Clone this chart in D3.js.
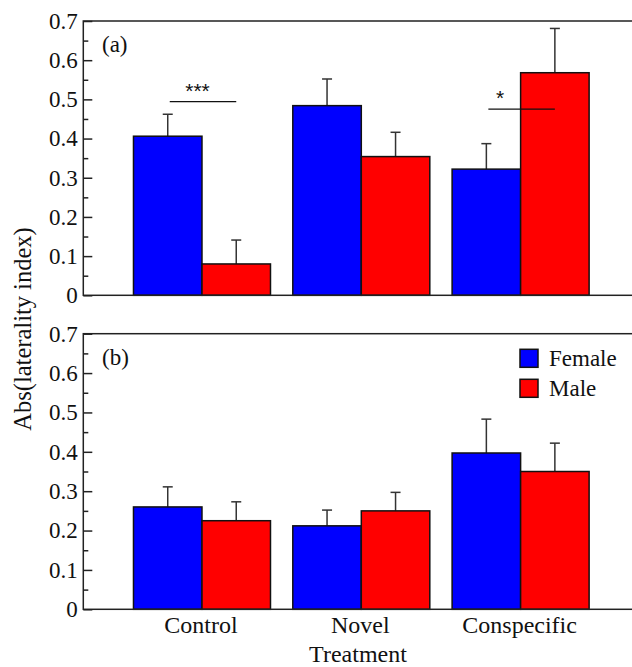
<!DOCTYPE html>
<html>
<head>
<meta charset="utf-8">
<script src="https://cdn.jsdelivr.net/npm/d3@7"></script>
<style>
  body { margin: 0; background: #fff; }
  svg text { font-family: "Liberation Serif", Tinos, "Times New Roman", Times, "DejaVu Serif", serif !important; fill: #111; }
  svg text.star { font-family: "Liberation Sans", Arimo, Arial, sans-serif !important; }
</style>
</head>
<body>
<div id="chart"></div>
<script>
// data
const treatments = ["Control", "Novel", "Conspecific"];
const sexes = ["Female", "Male"];
const colors = ["#0000ff", "#ff0000"];

// panel (a)
const aFemale = [0.406, 0.484, 0.322];
const aFemaleSE = [0.056, 0.068, 0.065];
const aMale = [0.080, 0.354, 0.568];
const aMaleSE = [0.061, 0.062, 0.113];

// panel (b)
const bFemale = [0.260, 0.212, 0.397];
const bFemaleSE = [0.051, 0.040, 0.086];
const bMale = [0.225, 0.250, 0.350];
const bMaleSE = [0.048, 0.047, 0.072];

// significance marks in panel (a): group, height of the line, label
const sigGroups = ["Control", "Conspecific"];
const sigLevels = [0.494, 0.475];
const sigLabels = ["***", "*"];

const yTicks = [0, 0.1, 0.2, 0.3, 0.4, 0.5, 0.6, 0.7];
const yMinorTicks = [0.05, 0.15, 0.25, 0.35, 0.45, 0.55, 0.65];

// set the dimensions
const W = 632, H = 667;
const left = 83.3, right = 639.3;

const svg = d3.select("#chart")
  .append("svg")
  .attr("width", W)
  .attr("height", H);

// x scales shared by both panels
const x = d3.scaleBand()
  .domain(treatments)
  .range([left, right])
  .paddingInner(0.14)
  .paddingOuter(0.315);

const xSex = d3.scaleBand()
  .domain(sexes)
  .range([0, x.bandwidth()]);

function drawPanel(top, bottom, female, femaleSE, male, maleSE, tag) {
  const y = d3.scaleLinear().domain([0, 0.7]).range([bottom, top]);
  const g = svg.append("g");

  const rows = [];
  treatments.forEach((t, i) => {
    rows.push({t: t, sex: "Female", v: female[i], se: femaleSE[i], c: colors[0]});
    rows.push({t: t, sex: "Male", v: male[i], se: maleSE[i], c: colors[1]});
  });

  // error bars (drawn first so bars sit on top of the stem)
  g.selectAll(".err")
    .data(rows)
    .join("line")
    .attr("x1", d => x(d.t) + xSex(d.sex) + xSex.bandwidth() / 2)
    .attr("x2", d => x(d.t) + xSex(d.sex) + xSex.bandwidth() / 2)
    .attr("y1", d => y(d.v))
    .attr("y2", d => y(d.v + d.se))
    .attr("stroke", "#333")
    .attr("stroke-width", 1.5);

  g.selectAll(".cap")
    .data(rows)
    .join("line")
    .attr("x1", d => x(d.t) + xSex(d.sex) + xSex.bandwidth() / 2 - 5)
    .attr("x2", d => x(d.t) + xSex(d.sex) + xSex.bandwidth() / 2 + 5)
    .attr("y1", d => y(d.v + d.se))
    .attr("y2", d => y(d.v + d.se))
    .attr("stroke", "#333")
    .attr("stroke-width", 1.5);

  // bars
  g.selectAll("rect.bar")
    .data(rows)
    .join("rect")
    .attr("class", "bar")
    .attr("x", d => x(d.t) + xSex(d.sex))
    .attr("y", d => y(d.v))
    .attr("width", xSex.bandwidth())
    .attr("height", d => y(0) - y(d.v))
    .attr("fill", d => d.c)
    .attr("stroke", "#111")
    .attr("stroke-width", 1.5);

  // frame
  g.append("rect")
    .attr("x", left)
    .attr("y", top)
    .attr("width", right - left)
    .attr("height", bottom - top)
    .attr("fill", "none")
    .attr("stroke", "#222")
    .attr("stroke-width", 1.5);

  // y axis, ticks point inward
  const yAxis = g.append("g")
    .attr("transform", `translate(${left},0)`)
    .call(d3.axisLeft(y)
      .tickValues(yTicks)
      .tickSizeInner(-9)
      .tickSizeOuter(0)
      .tickPadding(5.5)
      .tickFormat(d => d === 0 ? "0" : d3.format(".1f")(d)));
  yAxis.attr("font-family", null).attr("font-size", null);
  yAxis.select(".domain").remove();
  yAxis.selectAll("line").attr("stroke", "#222").attr("stroke-width", 1.5);
  yAxis.selectAll("text")
    .style("font-size", "23px")
    .attr("fill", "#111");

  const yMinor = g.append("g")
    .attr("transform", `translate(${left},0)`)
    .call(d3.axisLeft(y)
      .tickValues(yMinorTicks)
      .tickSizeInner(-5)
      .tickSizeOuter(0)
      .tickFormat(""));
  yMinor.select(".domain").remove();
  yMinor.selectAll("line").attr("stroke", "#222").attr("stroke-width", 1.5);

  // panel tag
  g.append("text")
    .attr("x", 102)
    .attr("y", top + 31)
    .style("font-size", "23px")
    .text(tag);

  return y;
}

const yA = drawPanel(21, 295.3, aFemale, aFemaleSE, aMale, aMaleSE, "(a)");
const yB = drawPanel(333.7, 609.3, bFemale, bFemaleSE, bMale, bMaleSE, "(b)");

// significance lines in panel (a)
const starShift = [-4.5, -20.5];
sigGroups.forEach((t, i) => {
  const x1 = x(t) + xSex("Female") + xSex.bandwidth() / 2 + 2;
  const x2 = x(t) + xSex("Male") + xSex.bandwidth() / 2;
  svg.append("line")
    .attr("x1", x1).attr("x2", x2)
    .attr("y1", yA(sigLevels[i])).attr("y2", yA(sigLevels[i]))
    .attr("stroke", "#111")
    .attr("stroke-width", 1.3);
  svg.append("text")
    .attr("class", "star")
    .attr("x", x(t) + x.bandwidth() / 2 + starShift[i])
    .attr("y", yA(sigLevels[i]) - 4)
    .attr("text-anchor", "middle")
    .style("font-size", "21px")
    .text(sigLabels[i]);
});

// category labels under panel (b)
svg.selectAll(".cat")
  .data(treatments)
  .join("text")
  .attr("x", d => x(d) + x.bandwidth() / 2 - 1)
  .attr("y", 633)
  .attr("text-anchor", "middle")
  .style("font-size", "24px")
  .text(d => d);

// axis titles
svg.append("text")
  .attr("x", 358)
  .attr("y", 662)
  .attr("text-anchor", "middle")
  .style("font-size", "24px")
  .text("Treatment");

svg.append("text")
  .attr("transform", "translate(31,329) rotate(-90)")
  .attr("text-anchor", "middle")
  .style("font-size", "24.5px")
  .text("Abs(laterality index)");

// legend
const legend = svg.append("g");
sexes.forEach((s, i) => {
  legend.append("rect")
    .attr("x", 520)
    .attr("y", 349.3 + i * 30)
    .attr("width", 18)
    .attr("height", 18)
    .attr("fill", colors[i])
    .attr("stroke", "#111")
    .attr("stroke-width", 1.5);
  legend.append("text")
    .attr("x", 549)
    .attr("y", 366 + i * 30)
    .style("font-size", "23px")
    .text(s);
});
</script>
</body>
</html>
